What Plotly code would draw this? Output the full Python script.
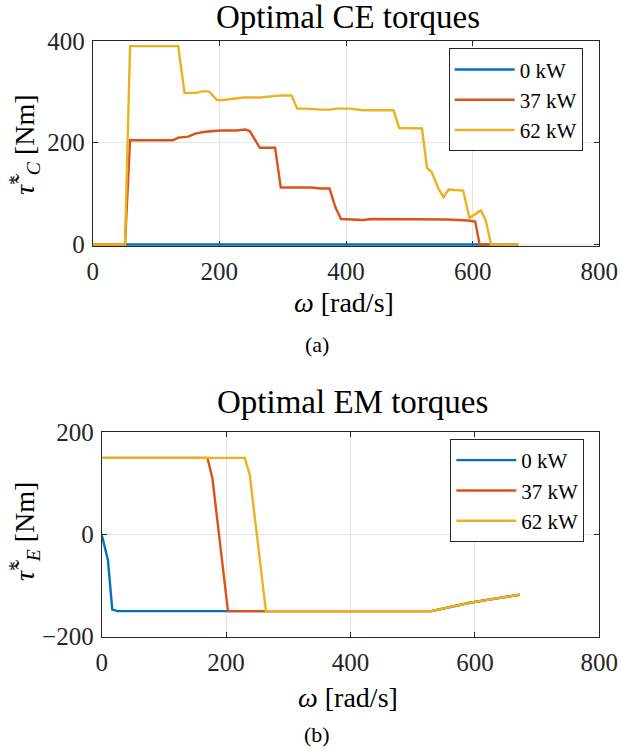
import plotly.graph_objects as go

# ---------------- data: top plot (CE torques) ----------------
ce_w_0kw = [0, 672]
ce_t_0kw = [0, 0]

ce_w_37kw = [0, 51, 59, 127, 135, 151, 162, 175, 191, 204, 227, 241, 248, 264, 288, 297,
             346, 359, 374, 383, 392, 427, 440, 549, 559, 593, 604, 611, 627]
ce_t_37kw = [0, 0, 205, 205, 210, 212, 218, 221, 223, 224, 224, 226, 223, 190, 190, 112,
             112, 110, 110, 74, 50, 48, 50, 50, 49, 47, 45, 0, 0]

ce_w_62kw = [0, 51, 59, 135, 145, 164, 172, 183, 186, 196, 206, 222, 238, 264, 280, 298,
             314, 323, 338, 359, 375, 385, 406, 427, 475, 484, 520, 528, 535, 546, 554,
             562, 585, 595, 613, 621, 629, 672]
ce_t_62kw = [0, 0, 390, 390, 298, 298, 301, 301, 298, 284, 284, 287, 289, 289, 291, 293,
             293, 267, 267, 265, 265, 267, 267, 264, 264, 229, 228, 150, 143, 110, 93,
             108, 106, 52, 67, 46, 0, 0]

# ---------------- data: bottom plot (EM torques) ----------------
em_w_0kw = [0, 10, 17, 26, 530, 560, 590, 620, 645, 672]
em_t_0kw = [0, -50, -147, -150, -150, -142, -134, -128, -123, -118]

em_w_37kw = [0, 170, 178, 203, 530, 560, 590, 620, 645, 672]
em_t_37kw = [150, 150, 110, -150, -150, -142, -134, -128, -123, -118]

em_w_62kw = [0, 230, 238, 264, 530, 560, 590, 620, 645, 672]
em_t_62kw = [150, 150, 117, -150, -150, -142, -134, -128, -123, -118]

series_names = ["0 kW", "37 kW", "62 kW"]
colors = ["#0072BD", "#D95319", "#EDB120"]

FONT = '"Liberation Serif", "Times New Roman", serif'
W, H = 621, 753

fig = go.Figure()

top = [(ce_w_0kw, ce_t_0kw), (ce_w_37kw, ce_t_37kw), (ce_w_62kw, ce_t_62kw)]
bot = [(em_w_0kw, em_t_0kw), (em_w_37kw, em_t_37kw), (em_w_62kw, em_t_62kw)]

for (x, y), name, c in zip(top, series_names, colors):
    fig.add_trace(go.Scatter(x=x, y=y, mode="lines", name=name,
                             line=dict(color=c, width=2.4),
                             xaxis="x", yaxis="y", legend="legend"))
for (x, y), name, c in zip(bot, series_names, colors):
    fig.add_trace(go.Scatter(x=x, y=y, mode="lines", name=name,
                             line=dict(color=c, width=2.4),
                             xaxis="x2", yaxis="y2", legend="legend2"))


def px(v):
    return v / W


def py(v):
    return 1 - v / H


axis_common = dict(
    showline=True, linecolor="#262626", linewidth=1, mirror="ticks",
    ticks="inside", ticklen=5, tickcolor="#262626", tickwidth=1,
    showgrid=True, gridcolor="#e3e3e3", gridwidth=1,
    zeroline=False, tickfont=dict(family=FONT, size=25, color="#262626"),
    automargin=False, layer="below traces",
)

legend_common = dict(
    xanchor="right", yanchor="top",
    bgcolor="white", bordercolor="#262626", borderwidth=1,
    font=dict(family=FONT, size=21, color="#000000"),
    itemwidth=60, tracegroupgap=0,
)

fig.update_layout(
    width=W, height=H,
    margin=dict(l=0, r=0, t=0, b=0),
    paper_bgcolor="white", plot_bgcolor="white",
    font=dict(family=FONT, color="#000000"),
    xaxis=dict(domain=[px(92.7), px(599.3)], range=[0, 800], dtick=200,
               anchor="y", ticklabelstandoff=3, **axis_common),
    yaxis=dict(domain=[py(246), py(41)], range=[-3, 400], tickvals=[0, 200, 400],
               anchor="x", ticklabelstandoff=2, **axis_common),
    xaxis2=dict(domain=[px(101.7), px(599.3)], range=[0, 800], dtick=200,
                anchor="y2", ticklabelstandoff=3, **axis_common),
    yaxis2=dict(domain=[py(636.7), py(432.3)], range=[-200, 200], dtick=200,
                anchor="x2", ticklabelstandoff=2, **axis_common),
    legend=dict(x=px(582.7), y=py(48.3), **legend_common),
    legend2=dict(x=px(584.3), y=py(439), **legend_common),
    showlegend=True,
)

ann = [
    dict(text="Optimal CE torques", x=px(348), y=py(17), size=33),
    dict(text="Optimal EM torques", x=px(352), y=py(402), size=33),
    dict(text="<i>ω</i> [rad/s]", x=px(344), y=py(302), size=28),
    dict(text="<i>ω</i> [rad/s]", x=px(348), y=py(697), size=28),
    dict(text="(a)", x=px(317), y=py(344), size=22),
    dict(text="(b)", x=px(317), y=py(734), size=22),
]
for a in ann:
    fig.add_annotation(text=a["text"], x=a["x"], y=a["y"], xref="paper", yref="paper",
                       xanchor="center", yanchor="middle", showarrow=False,
                       font=dict(family=FONT, size=a["size"], color="#000000"))

fig.add_annotation(text="<i>τ̃</i><sup>*</sup><sub><i>C</i></sub> [Nm]",
                   x=px(24), y=py(145), xref="paper", yref="paper",
                   xanchor="center", yanchor="middle", showarrow=False, textangle=-90,
                   font=dict(family=FONT, size=28, color="#000000"))
fig.add_annotation(text="<i>τ̃</i><sup>*</sup><sub><i>E</i></sub> [Nm]",
                   x=px(24), y=py(532), xref="paper", yref="paper",
                   xanchor="center", yanchor="middle", showarrow=False, textangle=-90,
                   font=dict(family=FONT, size=28, color="#000000"))

# remove the default page margin so the 621x753 figure fills the window exactly
fig.write_html(
    "out.html",
    config={"displayModeBar": False},
    post_script="document.body.style.margin='0';document.body.style.overflow='hidden';",
)
